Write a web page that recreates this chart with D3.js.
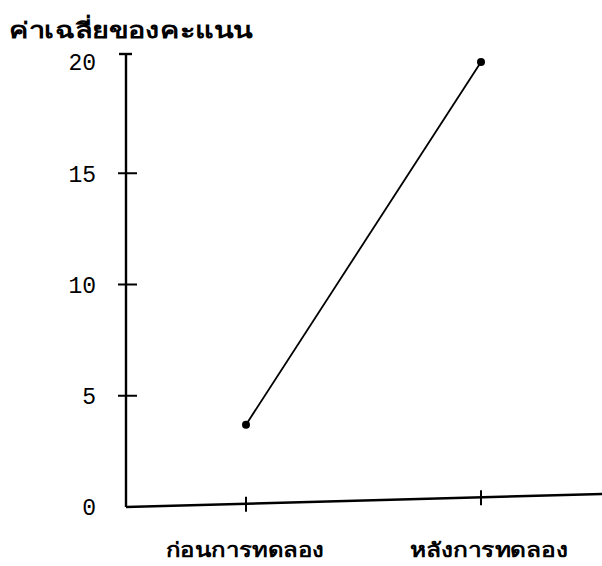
<!DOCTYPE html>
<html><head><meta charset="utf-8">
<script src="https://cdn.jsdelivr.net/npm/d3@7"></script>
<style>body{margin:0;background:#fff}svg{display:block}</style>
</head><body>
<script>
const categories = ["ก่อนการทดลอง", "หลังการทดลอง"];
const meanScores = [3.7, 20];
const yTicks = [0, 5, 10, 15, 20];
const yTitle = "ค่าเฉลี่ยของคะแนน";

const W = 602, H = 566;
const svg = d3.select("body").append("svg").attr("width", W).attr("height", H);

const x0 = 126, xEnd = 602, y0 = 507, yTop = 62;
const x = d3.scalePoint().domain(categories).range([246, 481]);
const y = d3.scaleLinear().domain([0, 20]).range([y0, yTop]);

// y axis line
svg.append("line").attr("x1", x0).attr("x2", x0).attr("y1", y(20) - 8).attr("y2", y0)
  .attr("stroke", "#000").attr("stroke-width", 2.4);
// top cap
svg.append("line").attr("x1", x0 - 7).attr("x2", x0 + 6).attr("y1", y(20) - 8).attr("y2", y(20) - 8)
  .attr("stroke", "#000").attr("stroke-width", 2.4);
// x axis line
svg.append("line").attr("x1", x0).attr("x2", xEnd).attr("y1", y0).attr("y2", y0 - 13)
  .attr("stroke", "#000").attr("stroke-width", 2.4);

// y ticks
const yt = svg.append("g");
yTicks.filter(d => d > 0 && d < 20).forEach(d => {
  yt.append("line").attr("x1", x0 - 8).attr("x2", x0 + 11).attr("y1", y(d)).attr("y2", y(d))
    .attr("stroke", "#000").attr("stroke-width", 2);
});
yTicks.forEach(d => {
  yt.append("text").attr("x", 96).attr("y", y(d)).attr("dy", "0.36em")
    .attr("text-anchor", "end").attr("font-family", "Liberation Mono, DejaVu Sans Mono, monospace")
    .attr("font-size", 23).attr("fill", "#000").text(d);
});

// x ticks
const slope = -13 / (xEnd - x0);
const labelCenters = [245, 489];
categories.forEach((c, i) => {
  const xx = x(c), yy = y0 + slope * (xx - x0);
  svg.append("line").attr("x1", xx).attr("x2", xx).attr("y1", yy - 7).attr("y2", yy + 8)
    .attr("stroke", "#000").attr("stroke-width", 2);
  svg.append("text").attr("x", labelCenters[i] - 79).attr("y", 557)
    .attr("textLength", 158).attr("lengthAdjust", "spacingAndGlyphs")
    .attr("font-family", "Noto Sans, sans-serif").attr("font-weight", "bold")
    .attr("font-size", 20).attr("fill", "#000").text(c);
});

// title
svg.append("text").attr("x", 9).attr("y", 38)
  .attr("textLength", 244).attr("lengthAdjust", "spacingAndGlyphs")
  .attr("font-family", "Noto Sans, sans-serif")
  .attr("font-weight", "bold").attr("font-size", 22).attr("fill", "#000").text(yTitle);

// line and points
const data = categories.map((c, i) => ({c, v: meanScores[i]}));
svg.append("path").datum(data)
  .attr("d", d3.line().x(d => x(d.c)).y(d => y(d.v)))
  .attr("fill", "none").attr("stroke", "#000").attr("stroke-width", 1.8);
svg.selectAll("circle.pt").data(data).enter().append("circle")
  .attr("cx", d => x(d.c)).attr("cy", d => y(d.v)).attr("r", 4).attr("fill", "#000");
</script>
</body></html>
